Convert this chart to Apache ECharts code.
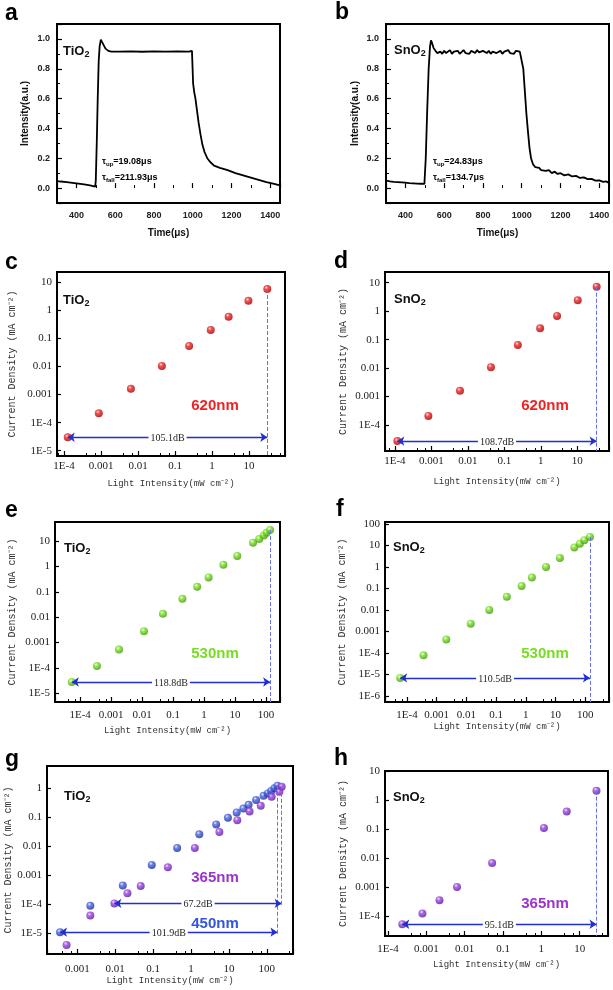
<!DOCTYPE html>
<html>
<head>
<meta charset="utf-8">
<script src="https://cdn.jsdelivr.net/npm/echarts@6/dist/echarts.min.js"></script>
<style>
html, body { margin: 0; padding: 0; background: #fff; }
#main { width: 613px; height: 990px; }
</style>
</head>
<body>
<div id="main"></div>
<script>
// ---- data ----
// a, b : photoresponse traces [time (us), normalised intensity]
const traceA = [
  [300, 0.047], [320, 0.044], [350, 0.04], [380, 0.035], [410, 0.03], [440, 0.025], [470, 0.018],
  [497, 0.01], [500, 0.05], [505, 0.3], [510, 0.6], [515, 0.85], [520, 0.95], [526, 0.995],
  [532, 0.985], [540, 0.96], [550, 0.935], [565, 0.92], [580, 0.915], [620, 0.915], [680, 0.917],
  [740, 0.914], [800, 0.916], [860, 0.915], [920, 0.917], [980, 0.915], [996, 0.92], [1000, 0.92],
  [1002, 0.7], [1008, 0.64], [1014, 0.6], [1020, 0.54], [1030, 0.44], [1040, 0.36], [1050, 0.29],
  [1060, 0.245], [1075, 0.2], [1090, 0.175], [1110, 0.15], [1140, 0.135], [1180, 0.12],
  [1220, 0.1], [1260, 0.085], [1300, 0.07], [1340, 0.055], [1380, 0.04], [1420, 0.028], [1450, 0.018]
];
const traceB = [
  [300, 0.05], [310, 0.058], [320, 0.045], [330, 0.055], [340, 0.042], [350, 0.052], [360, 0.04],
  [370, 0.05], [380, 0.038], [390, 0.047], [400, 0.036], [410, 0.045], [420, 0.033], [430, 0.043],
  [440, 0.032], [450, 0.04], [460, 0.03], [470, 0.038], [480, 0.029], [490, 0.035], [498, 0.028],
  [500, 0.02], [505, 0.2], [512, 0.5], [520, 0.8], [527, 0.95], [532, 0.99], [537, 0.975],
  [545, 0.94], [555, 0.92], [565, 0.905],
  [570, 0.9], [580, 0.915], [590, 0.9], [600, 0.92], [610, 0.905], [620, 0.91], [630, 0.925],
  [640, 0.9], [650, 0.915], [660, 0.905], [670, 0.92], [680, 0.9], [690, 0.91], [700, 0.925],
  [710, 0.905], [720, 0.915], [730, 0.9], [740, 0.92], [750, 0.91], [760, 0.905], [770, 0.925],
  [780, 0.91], [790, 0.9], [800, 0.92], [810, 0.915], [820, 0.905], [830, 0.92], [840, 0.9],
  [850, 0.915], [860, 0.925], [870, 0.905], [880, 0.91], [890, 0.92], [900, 0.9], [910, 0.915],
  [920, 0.91], [930, 0.925], [940, 0.905], [950, 0.915], [960, 0.9], [970, 0.92], [980, 0.91],
  [990, 0.915], [998, 0.91],
  [1008, 0.8], [1016, 0.65], [1024, 0.5], [1032, 0.38], [1040, 0.27], [1048, 0.2], [1058, 0.16],
  [1070, 0.14], [1080, 0.13], [1090, 0.135], [1100, 0.12], [1110, 0.13], [1125, 0.115],
  [1140, 0.12], [1155, 0.1], [1170, 0.11], [1185, 0.095], [1200, 0.1], [1220, 0.085],
  [1240, 0.092], [1260, 0.078], [1280, 0.082], [1300, 0.068], [1320, 0.072], [1340, 0.06],
  [1360, 0.062], [1380, 0.05], [1400, 0.052], [1420, 0.042], [1435, 0.045], [1450, 0.035]
];

// c, d : 620 nm
const cX = [1.26e-4, 8.7e-4, 6.4e-3, 0.044, 0.24, 0.92, 2.8, 9.6, 31];
const cY = [3.0e-5, 2.15e-4, 1.6e-3, 0.0105, 0.054, 0.2, 0.6, 2.2, 5.8];
const dX = [1.17e-4, 8.3e-4, 6.1e-3, 0.043, 0.235, 0.96, 2.8, 10.3, 34];
const dY = [2.75e-5, 2.1e-4, 1.6e-3, 0.0107, 0.065, 0.25, 0.68, 2.4, 7.2];
// e, f : 530 nm
const eX = [5.4e-5, 3.5e-4, 1.8e-3, 0.0115, 0.047, 0.2, 0.6, 1.4, 4.2, 11.8, 38, 60, 85, 104, 135];
const eY = [2.8e-5, 1.2e-4, 5.3e-4, 2.8e-3, 0.0136, 0.053, 0.157, 0.37, 1.17, 2.6, 8.6, 12, 16.7, 21, 27];
const fX = [5.9e-5, 3.6e-4, 2.1e-3, 0.014, 0.059, 0.23, 0.72, 1.6, 4.8, 14, 43, 66, 93, 144];
const fY = [6.9e-6, 7.8e-5, 4.2e-4, 2.3e-3, 0.01, 0.041, 0.13, 0.32, 1.0, 2.6, 8.1, 12, 17.6, 25];
// g : TiO2 450 nm (blue) and 365 nm (purple)
const g450X = [3.5e-4, 2.2e-3, 0.0158, 0.092, 0.43, 1.65, 4.6, 9.4, 16, 24, 33, 52, 82, 106, 130, 158, 190];
const g450Y = [1.1e-5, 9e-5, 4.5e-4, 2.3e-3, 8.8e-3, 0.026, 0.057, 0.097, 0.148, 0.2, 0.27, 0.4, 0.55, 0.67, 0.81, 1.0, 1.23];
const g365X = [5.2e-4, 2.2e-3, 0.0095, 0.021, 0.047, 0.245, 1.26, 5.6, 16.6, 35, 69, 134, 214, 246];
const g365Y = [4e-6, 4.1e-5, 1.08e-4, 2.4e-4, 4.3e-4, 1.9e-3, 8.8e-3, 0.031, 0.08, 0.16, 0.25, 0.51, 0.77, 1.13];
// h : SnO2 365 nm
const hX = [2.35e-4, 7.9e-4, 2.2e-3, 6.3e-3, 0.052, 1.17, 4.6, 27.5];
const hY = [5.2e-5, 1.23e-4, 3.5e-4, 1e-3, 6.7e-3, 0.108, 0.4, 2.1];

const dbLabels = { c: '105.1dB', d: '108.7dB', e: '118.8dB', f: '110.5dB', g365: '67.2dB', g450: '101.9dB', h: '95.1dB' };

// ---- styling helpers ----
const SERIF = 'Liberation Serif';
const MONO = 'Liberation Mono';
const SANS = 'Liberation Sans';

function logFmt (v) {
  const e = Math.round(Math.log10(v));
  if (e < -3) return '1E' + e;
  if (e < 0) return '0.' + '0'.repeat(-e - 1) + '1';
  return String(Math.pow(10, e));
}

function ball (c0, c1, c2) {
  return new echarts.graphic.RadialGradient(0.38, 0.32, 0.62, [
    { offset: 0, color: c0 }, { offset: 0.35, color: c1 }, { offset: 1, color: c2 }
  ]);
}
const RED = ball('#ffe0e0', '#f02828', '#b00000');
const GREEN = ball('#f0ffe0', '#7ee628', '#4aa010');
const BLUE = ball('#e4e8ff', '#4a6ae0', '#2030a8');
const PURPLE = ball('#f0e0ff', '#a048e0', '#6020a8');

const grids = [
  { left: 57, top: 24, width: 223, height: 179 },   // a
  { left: 386, top: 24, width: 223, height: 179 },  // b
  { left: 57, top: 272, width: 228, height: 184 },  // c
  { left: 385, top: 272, width: 224, height: 179 }, // d
  { left: 55, top: 522, width: 225, height: 180 },  // e
  { left: 385, top: 522, width: 224, height: 180 }, // f
  { left: 47, top: 766, width: 246, height: 188 },  // g
  { left: 385, top: 771, width: 223, height: 165 }  // h
].map(g => Object.assign({ show: true, borderColor: '#000', borderWidth: 2, backgroundColor: 'transparent' }, g));

// log-panel ranges, in decades
const logPanels = [
  { g: 2, x: [-4.19, 1.97], y: [-5.19, 1.37], xGap: 23, yGap: 40, xm: 5 },
  { g: 3, x: [-4.27, 1.87], y: [-4.91, 1.375], xGap: 26, yGap: 37, xm: 5 },
  { g: 4, x: [-4.81, 2.45], y: [-5.34, 1.75], xGap: 24, yGap: 38, xm: 8 },
  { g: 5, x: [-4.74, 2.8], y: [-6.28, 2.09], xGap: 20, yGap: 38, xm: 8 },
  { g: 6, x: [-3.8, 2.69], y: [-5.71, 0.77], xGap: 20, yGap: 34, xm: 10 },
  { g: 7, x: [-4.08, 1.74], y: [-4.69, 1], xGap: 24, yGap: 37, xm: 8 }
];

const xAxes = [];
const yAxes = [];

// time axes a, b
[0, 1].forEach(gi => {
  xAxes.push({
    type: 'value', gridIndex: gi, min: 300, max: 1450,
    name: 'Time(μs)', nameLocation: 'middle', nameGap: 25,
    nameTextStyle: { fontFamily: SANS, fontWeight: 'bold', fontSize: 10, color: '#111' },
    axisLine: { show: false },
    axisTick: { inside: true, length: 5, lineStyle: { color: '#000', width: 1.2 } },
    minorTick: { show: true, splitNumber: 2, length: 3, lineStyle: { color: '#000' } },
    splitLine: { show: false },
    axisLabel: { showMinLabel: false, showMaxLabel: false, margin: 8, formatter: v => String(v), fontFamily: SANS, fontWeight: 'bold', fontSize: 9, color: '#222' }
  });
  yAxes.push({
    type: 'value', gridIndex: gi, min: -0.1, max: 1.1,
    name: 'Intensity(a.u.)', nameLocation: 'middle', nameGap: gi === 0 ? 27 : 26,
    nameTextStyle: { fontFamily: SANS, fontWeight: 'bold', fontSize: 10, color: '#111' },
    axisLine: { show: false },
    axisTick: { inside: true, length: 5, lineStyle: { color: '#000', width: 1.2 } },
    minorTick: { show: true, splitNumber: 2, length: 3, lineStyle: { color: '#000' } },
    splitLine: { show: false },
    axisLabel: { showMinLabel: false, showMaxLabel: false, margin: 7, formatter: v => v.toFixed(1), fontFamily: SANS, fontWeight: 'bold', fontSize: 9, color: '#222' }
  });
});

logPanels.forEach(p => {
  const topTen = p.g === 7;
  xAxes.push({
    type: 'log', gridIndex: p.g, min: Math.pow(10, p.x[0]), max: Math.pow(10, p.x[1]),
    name: 'Light Intensity(mW cm⁻²)', nameLocation: 'middle', nameGap: p.xGap,
    nameTextStyle: { fontFamily: MONO, fontSize: 9, color: '#333' },
    axisLine: { show: false },
    axisTick: { inside: true, length: 5, lineStyle: { color: '#000', width: 1.2 } },
    minorTick: { show: true, splitNumber: 3, length: 3, lineStyle: { color: '#000' } },
    splitLine: { show: false },
    axisLabel: { showMinLabel: false, showMaxLabel: false, margin: p.xm, formatter: logFmt, fontFamily: SERIF, fontSize: 11, color: '#222' }
  });
  yAxes.push({
    type: 'log', gridIndex: p.g, min: Math.pow(10, p.y[0]), max: Math.pow(10, p.y[1]),
    name: 'Current Density (mA cm⁻²)', nameLocation: 'middle', nameGap: p.yGap,
    nameTextStyle: { fontFamily: MONO, fontSize: 10, color: '#333' },
    axisLine: { show: false },
    axisTick: { inside: true, length: 4, lineStyle: { color: '#000', width: 1.2 } },
    splitLine: { show: false },
    axisLabel: { showMinLabel: false, showMaxLabel: topTen, margin: 5, formatter: logFmt, fontFamily: SERIF, fontSize: 11, color: '#222' }
  });
});

function zip (xs, ys) { return xs.map((x, i) => [x, ys[i]]); }

// double arrow from the first point to the last point, and dashed drop line at the last point
function marks (xs, ys, from, label, yEnd) {
  const n = xs.length - 1;
  const arrowStyle = { color: '#1f2fd0', width: 1.3, type: 'solid' };
  const dashStyle = { color: '#6670ee', width: 1, type: 'dashed' };
  const lab = {
    show: true, position: 'middle', distance: -6, formatter: label, backgroundColor: '#fff', padding: [0, 2],
    fontFamily: SERIF, fontSize: 10, color: '#222'
  };
  return {
    silent: true,
    symbolSize: 7,
    data: [
      [
        { coord: [xs[from], ys[from]], symbol: 'arrow', lineStyle: arrowStyle, label: lab },
        { coord: [xs[n], ys[from]], symbol: 'arrow', lineStyle: arrowStyle, label: lab }
      ],
      [
        { coord: [xs[n], ys[n]], symbol: 'none', lineStyle: dashStyle, label: { show: false } },
        { coord: [xs[n], yEnd], symbol: 'none', lineStyle: dashStyle, label: { show: false } }
      ]
    ]
  };
}

function scatter (axis, xs, ys, color, ml) {
  return {
    type: 'scatter', xAxisIndex: axis, yAxisIndex: axis, data: zip(xs, ys),
    symbolSize: 8, itemStyle: { color: color }, markLine: ml, z: 3
  };
}

const yMinOf = i => Math.pow(10, logPanels[i].y[0]);

const series = [
  { type: 'line', xAxisIndex: 0, yAxisIndex: 0, data: traceA, showSymbol: false, lineStyle: { color: '#000', width: 1.8 } },
  { type: 'line', xAxisIndex: 1, yAxisIndex: 1, data: traceB, showSymbol: false, lineStyle: { color: '#000', width: 1.8 } },
  scatter(2, cX, cY, RED, marks(cX, cY, 0, dbLabels.c, yMinOf(0))),
  scatter(3, dX, dY, RED, marks(dX, dY, 0, dbLabels.d, yMinOf(1))),
  scatter(4, eX, eY, GREEN, marks(eX, eY, 0, dbLabels.e, yMinOf(2))),
  scatter(5, fX, fY, GREEN, marks(fX, fY, 0, dbLabels.f, yMinOf(3))),
  scatter(6, g450X, g450Y, BLUE, marks(g450X, g450Y, 0, dbLabels.g450, g450Y[0] * 0.8)),
  scatter(6, g365X, g365Y, PURPLE, marks(g365X, g365Y, 2, dbLabels.g365, g365Y[2] * 0.8)),
  scatter(7, hX, hY, PURPLE, marks(hX, hY, 0, dbLabels.h, yMinOf(5)))
];

// ---- text annotations ----
function letter (t, x, y) {
  return { type: 'text', left: x, top: y, style: { text: t, font: 'bold 23px "Liberation Sans"', fill: '#000' } };
}
function material (t, x, y) {
  return {
    type: 'text', left: x, top: y,
    style: {
      text: '{m|' + t + '}{s|2}', fill: '#111',
      rich: { m: { fontFamily: SANS, fontWeight: 'bold', fontSize: 13, color: '#111' }, s: { fontFamily: SANS, fontWeight: 'bold', fontSize: 9, color: '#111', padding: [6, 0, 0, 0] } }
    }
  };
}
function wave (t, cx, cy, color) {
  return {
    type: 'text', x: cx, y: cy,
    style: { text: t, font: 'bold 15px "Liberation Sans"', fill: color, align: 'center', verticalAlign: 'middle' }
  };
}
function tau (sub, val, x, y) {
  return {
    type: 'text', x: x, y: y,
    style: {
      text: '{t|τ}{s|' + sub + '}{t|=' + val + '}', verticalAlign: 'middle',
      rich: { t: { fontFamily: SANS, fontWeight: 'bold', fontSize: 9, color: '#111' }, s: { fontFamily: SANS, fontWeight: 'bold', fontSize: 6, color: '#111', padding: [5, 0, 0, 0] } }
    }
  };
}

const graphics = [
  letter('a', 5, 2), letter('b', 335, 1), letter('c', 5, 251), letter('d', 334, 250),
  letter('e', 5, 499), letter('f', 336, 498), letter('g', 5, 748), letter('h', 334, 747),
  material('TiO', 63, 45), material('SnO', 394, 44), material('TiO', 63, 294), material('SnO', 394, 293),
  material('TiO', 64, 542), material('SnO', 393, 541), material('TiO', 64, 790), material('SnO', 393, 791),
  tau('up', '19.08μs', 102, 162), tau('fall', '211.93μs', 102, 178),
  tau('up', '24.83μs', 433, 162), tau('fall', '134.7μs', 433, 178),
  wave('620nm', 215, 406, '#ee2222'), wave('620nm', 545, 406, '#ee2222'),
  wave('530nm', 215, 654, '#77dd22'), wave('530nm', 545, 654, '#77dd22'),
  wave('365nm', 215, 878, '#9933cc'), wave('450nm', 215, 924, '#3355dd'),
  wave('365nm', 545, 904, '#9933cc')
];

const chart = echarts.init(document.getElementById('main'), null, { renderer: 'canvas' });
chart.setOption({
  animation: false,
  backgroundColor: '#fff',
  grid: grids,
  xAxis: xAxes,
  yAxis: yAxes,
  series: series,
  graphic: graphics
});
</script>
</body>
</html>
